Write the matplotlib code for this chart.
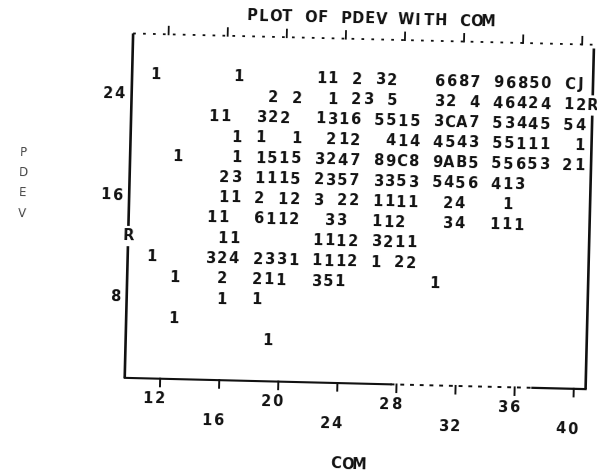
import matplotlib
matplotlib.use("Agg")
import matplotlib.pyplot as plt
from matplotlib.transforms import Affine2D

# ---- data: line-printer scatter plot of PDEV against COM ----
# printer grid: column 0 is COM 10.4, each printer column is 0.8 COM
com_first_col = 10.4
com_per_col = 0.8
# PDEV value of each printed row
row_pdev = [25.6, 24.0, 22.4, 20.8, 19.2, 17.6, 16.0, 14.4, 12.8, 11.2, 9.6, 8.0, 6.4, 4.8]
# count symbols printed in each row (1-9, then A, B, C ... for larger counts)
row_symbols = [
    " 1      1      11 2 32   6687 96850 CJ",
    "           2 2  1 23 5   32 4 46424 12",
    "      11  322  1316 5515 3CA7 53445 54",
    "        1 1  1  212  414 4543 55111  1",
    "   1    1 1515 3247 89C8 9AB5 55653 21",
    "       23 1115 2357 3353 5456 413",
    "       11 2 12 3 22 1111  24   1",
    "      11  6112  33  112   34  111",
    "       11      1112 3211",
    " 1    324 2331 1112 1 22",
    "   1   2  211  351       1",
    "       1  1",
    "   1",
    "           1",
]
x_ticks = [12, 16, 20, 24, 28, 32, 36, 40]
y_ticks = [24, 16, 8]
ref_mark_com = [9.6, 40.8]     # 'R' printed on the frame
ref_mark_pdev = [12.8, 24.0]
title = "PLOT OF PDEV WITH COM"
x_title = "COM"
y_title = "PDEV"

x_min, x_max = 9.6, 40.8
y_min, y_max = 1.6, 28.8
row_step = 1.6

# ---- figure ----
W, H = 597, 474
fig = plt.figure(figsize=(W / 100, H / 100), dpi=100)
fig.patch.set_facecolor("white")
left_px, right_px, top_px, bot_px = 129, 590, 39, 383.5
ax = fig.add_axes([left_px / W, (H - bot_px) / H,
                   (right_px - left_px) / W, (bot_px - top_px) / H])
ax.set_xlim(x_min, x_max)
ax.set_ylim(y_min, y_max)
ax.axis("off")

ANG = -1.4  # the scanned page is slightly rotated
rot = Affine2D().rotate_deg_around(358, H - 205, ANG)
tr = ax.transData + rot

INK = "#111111"
FONT = dict(family="DejaVu Sans", weight="bold", size=10.5, color=INK)


def put(ch, x, y, **kw):
    st = dict(FONT)
    st.update(kw)
    ax.text(x, y, ch, transform=tr, rotation=ANG, rotation_mode="anchor",
            ha="center", va="center", clip_on=False, **st)


def put_string(s, col0, y, **kw):
    for i, ch in enumerate(s):
        if ch != " ":
            put(ch, com_first_col + (col0 + i) * com_per_col, y, **kw)


# data symbols
for pdev, syms in zip(row_pdev, row_symbols):
    for i, ch in enumerate(syms):
        if ch != " ":
            put(ch, com_first_col + i * com_per_col, pdev)

# frame lines
lw = 1.9
ax.plot([x_min, x_min], [y_max, ref_mark_pdev[0] + row_step / 2], color=INK, lw=lw,
        transform=tr, clip_on=False, solid_capstyle="butt")
ax.plot([x_min, x_min], [ref_mark_pdev[0] - row_step / 2, y_min], color=INK, lw=lw,
        transform=tr, clip_on=False, solid_capstyle="butt")
ax.plot([x_max, x_max], [y_max - 0.3, ref_mark_pdev[1] + row_step / 2], color=INK, lw=lw,
        transform=tr, clip_on=False, solid_capstyle="butt")
ax.plot([x_max, x_max], [ref_mark_pdev[1] - row_step / 2, y_min], color=INK, lw=lw,
        transform=tr, clip_on=False, solid_capstyle="butt")
# top line: faint dotted print
ax.plot([x_min, x_max], [y_max, y_max], color=INK, lw=1.3, ls=(0, (1.5, 4)),
        transform=tr, clip_on=False)
# bottom line: solid, then dotted, then solid
x_a, x_b = 27.6, 37.2
ax.plot([x_min, x_a], [y_min, y_min], color=INK, lw=1.5, transform=tr, clip_on=False)
ax.plot([x_a, x_b], [y_min, y_min], color=INK, lw=1.4, ls=(0, (2, 3)),
        transform=tr, clip_on=False)
ax.plot([x_b, x_max], [y_min, y_min], color=INK, lw=1.6, transform=tr, clip_on=False)

# tick marks
for v in x_ticks:
    ax.plot([v, v], [y_min, y_min - 0.6], color=INK, lw=1.4, transform=tr, clip_on=False)
    ax.plot([v, v], [y_max, y_max + 0.6], color=INK, lw=1.3, transform=tr, clip_on=False)

# 'R' marks on the frame
for xc, yc in zip(ref_mark_com, ref_mark_pdev):
    put("R", xc, yc)

# x tick labels (staggered on two print lines)
for i, v in enumerate(x_ticks):
    col = round((v - com_first_col) / com_per_col)
    lab = str(v)
    y_lab = y_min - row_step * (1 + i % 2)
    put_string(lab, col - len(lab) + 1, y_lab)

# y tick labels, right aligned two columns left of the frame
for v in y_ticks:
    lab = str(v)
    put_string(lab, -2 - len(lab) + 1, v)

# title, axis titles
put_string(title, 19 - len(title) // 2, y_max + row_step)
put_string(x_title, 17, y_min - row_step * 4)
for k, ch in enumerate(y_title):
    put(ch, com_first_col - 10 * com_per_col, 19.2 - k * row_step,
        weight="normal", size=8.5, color="#444444")

fig.savefig("out.png", dpi=100, facecolor="white")
